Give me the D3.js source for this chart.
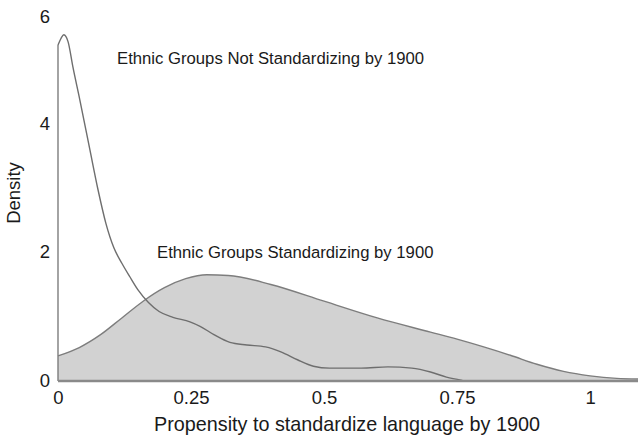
<!DOCTYPE html>
<html><head><meta charset="utf-8">
<script src="https://cdn.jsdelivr.net/npm/d3@7"></script>
<style>body{margin:0;background:#fff}svg{display:block}text{font-family:"Liberation Sans",Arial,sans-serif;fill:#1a1a1a}</style>
</head><body>
<script>
const xTicks = [0, 0.25, 0.5, 0.75, 1];
const xTickLabels = ["0", "0.25", "0.5", "0.75", "1"];
const yTicks = [0, 2, 4, 6];
const yTickLabels = ["0", "2", "4", "6"];

const notStdX = [0, 0.006, 0.011, 0.019, 0.028, 0.041, 0.060, 0.075, 0.090, 0.105, 0.120, 0.135, 0.150, 0.170, 0.190, 0.216, 0.248, 0.267, 0.293, 0.323, 0.355, 0.390, 0.420, 0.450, 0.480, 0.510, 0.570, 0.620, 0.665, 0.700, 0.730, 0.760];
const notStdY = [5.22, 5.33, 5.38, 5.27, 4.88, 4.37, 3.59, 2.98, 2.45, 2.07, 1.83, 1.62, 1.42, 1.22, 1.08, 0.99, 0.92, 0.85, 0.72, 0.60, 0.56, 0.53, 0.45, 0.33, 0.23, 0.20, 0.20, 0.22, 0.20, 0.14, 0.06, 0.01];

const stdX = [0, 0.04, 0.08, 0.12, 0.16, 0.20, 0.24, 0.28, 0.32, 0.40, 0.50, 0.60, 0.70, 0.75, 0.80, 0.85, 0.90, 0.95, 1.0, 1.05, 1.09];
const stdY = [0.39, 0.52, 0.72, 0.98, 1.24, 1.45, 1.59, 1.65, 1.64, 1.50, 1.24, 0.98, 0.76, 0.65, 0.53, 0.40, 0.26, 0.15, 0.08, 0.04, 0.03];

const labelNot = "Ethnic Groups Not Standardizing by 1900";
const labelStd = "Ethnic Groups Standardizing by 1900";
const xTitle = "Propensity to standardize language by 1900";
const yTitle = "Density";

const W = 638, H = 438;
const svg = d3.select("body").append("svg").attr("width", W).attr("height", H);

const x = d3.scaleLinear().domain([0, 1.09]).range([58, 638]);
const y = d3.scaleLinear().domain([0, 6]).range([381, -5.1]);

const std = stdX.map((v, i) => [v, stdY[i]]);
const notStd = notStdX.map((v, i) => [v, notStdY[i]]);

// shaded area
svg.append("path")
  .datum(std)
  .attr("d", d3.area().x(d => x(d[0])).y0(y(0)).y1(d => y(d[1])).curve(d3.curveMonotoneX))
  .attr("fill", "#d2d2d2");
svg.append("path")
  .datum(std)
  .attr("d", d3.line().x(d => x(d[0])).y(d => y(d[1])).curve(d3.curveMonotoneX))
  .attr("fill", "none").attr("stroke", "#7d7d7d").attr("stroke-width", 1.4);

// not standardizing curve
svg.append("line")
  .attr("x1", x(notStd[0][0])).attr("x2", x(notStd[0][0]))
  .attr("y1", y(0)).attr("y2", y(notStd[0][1]))
  .attr("stroke", "#7d7d7d").attr("stroke-width", 1.4);
svg.append("path")
  .datum(notStd)
  .attr("d", d3.line().x(d => x(d[0])).y(d => y(d[1])).curve(d3.curveMonotoneX))
  .attr("fill", "none").attr("stroke", "#6e6e6e").attr("stroke-width", 1.4);

// baseline
svg.append("line")
  .attr("x1", x(0)).attr("x2", x(1.09)).attr("y1", y(0)).attr("y2", y(0))
  .attr("stroke", "#8a8a8a").attr("stroke-width", 2.5);

// x axis
const xAxis = d3.axisBottom(x).tickValues(xTicks).tickSize(0).tickPadding(10)
  .tickFormat((d, i) => xTickLabels[i]);
const gx = svg.append("g").attr("transform", `translate(0,${y(0)})`).call(xAxis);
gx.select(".domain").remove();
gx.selectAll("text").attr("font-size", 18.5).attr("font-family", null).style("fill", "#1a1a1a");

// y axis
const yAxis = d3.axisLeft(y).tickValues(yTicks).tickSize(0).tickPadding(8)
  .tickFormat((d, i) => yTickLabels[i]);
const gy = svg.append("g").attr("transform", `translate(${x(0)},0)`).call(yAxis);
gy.select(".domain").remove();
gy.selectAll("text").attr("font-size", 18.5).attr("font-family", null).style("fill", "#1a1a1a");
gy.selectAll(".tick").attr("transform", d => `translate(0,${Math.max(y(d), 17)})`);

// titles
svg.append("text").attr("x", 347).attr("y", 431).attr("text-anchor", "middle")
  .attr("font-size", 19.8).text(xTitle);
svg.append("text").attr("transform", "translate(20,193) rotate(-90)").attr("text-anchor", "middle")
  .attr("font-size", 18.5).text(yTitle);

// annotations
svg.append("text").attr("x", 117).attr("y", 64).attr("font-size", 16.7).text(labelNot);
svg.append("text").attr("x", 157).attr("y", 258).attr("font-size", 16.7).text(labelStd);
</script>
</body></html>
